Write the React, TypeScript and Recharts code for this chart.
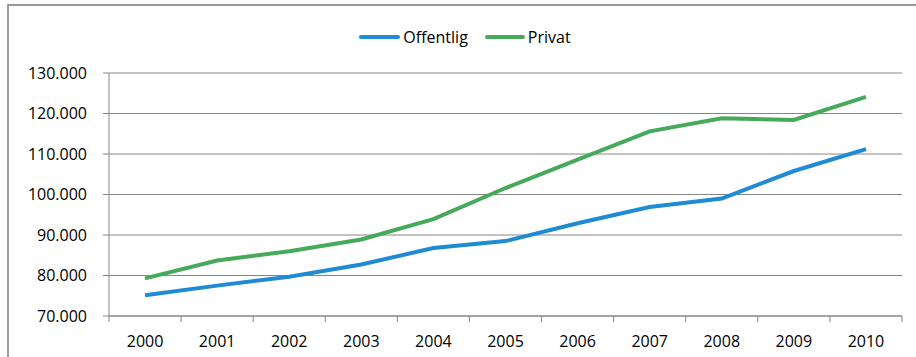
import React from 'react'
import { LineChart, Line, XAxis, YAxis, CartesianGrid, Legend } from 'recharts'

const years = ['2000', '2001', '2002', '2003', '2004', '2005', '2006', '2007', '2008', '2009', '2010']
const offentlig = [75100, 77500, 79700, 82700, 86800, 88500, 92900, 96900, 99000, 105800, 111200]
const privat = [79300, 83700, 86000, 88900, 93900, 101600, 108600, 115600, 118800, 118400, 124100]
const yTicks = [70000, 80000, 90000, 100000, 110000, 120000, 130000]

const data = years.map((year, i) => ({ year, offentlig: offentlig[i], privat: privat[i] }))

const W = 916
const H = 357
const PLOT_LEFT = 109
const PLOT_RIGHT = 902
const BAND = (PLOT_RIGHT - PLOT_LEFT) / years.length
const FONT = '"Open Sans", sans-serif'
const AXIS = '#868686'
const BLUE = '#1e8bd3'
const GREEN = '#47a95a'
const LEGEND_H = 20

const fmt = (v: number) => `${Math.round(v / 1000)}.000`

const XTick = (props: any) => {
  const { x, y, payload, index } = props
  const half = BAND / 2
  return (
    <g>
      <line x1={x - half} x2={x - half} y1={y} y2={y + 6} stroke={AXIS} />
      {index === years.length - 1 && <line x1={x + half} x2={x + half} y1={y} y2={y + 6} stroke={AXIS} />}
      <text x={x} y={y + 25} dy="0.35em" textAnchor="middle" fill="#000" fontSize={16} fontFamily={FONT}>
        {payload.value}
      </text>
    </g>
  )
}

const LegendBox = () => (
  <div style={{ display: 'flex', justifyContent: 'center', alignItems: 'center', height: LEGEND_H, paddingLeft: 14, fontFamily: FONT, fontSize: 16, color: '#000' }}>
    <span style={{ display: 'inline-block', width: 41, height: 4, borderRadius: 2, background: BLUE, marginRight: 3 }} />
    <span>Offentlig</span>
    <span style={{ display: 'inline-block', width: 40, height: 4, borderRadius: 2, background: GREEN, marginLeft: 17, marginRight: 3 }} />
    <span>Privat</span>
  </div>
)

export default function App() {
  return (
    <div style={{ position: 'absolute', left: 0, top: 0, width: W, height: H, background: '#fff', overflow: 'hidden' }}>
      <div style={{ position: 'absolute', left: 7, top: 4, width: W, height: H, borderTop: '2px solid #9a9a9a', borderLeft: '2px solid #9a9a9a' }} />
      <LineChart
        width={W}
        height={H}
        data={data}
        margin={{ top: 73 - LEGEND_H, right: W - PLOT_RIGHT, bottom: 0, left: 0 }}
      >
        <CartesianGrid vertical={false} stroke={AXIS} />
        <XAxis
          dataKey="year"
          height={41}
          stroke={AXIS}
          tickLine={false}
          tickSize={0}
          tickMargin={0}
          interval={0}
          padding={{ left: BAND / 2, right: BAND / 2 }}
          tick={<XTick />}
        />
        <YAxis
          width={PLOT_LEFT}
          domain={[70000, 130000]}
          ticks={yTicks}
          tickFormatter={fmt}
          stroke={AXIS}
          tickSize={6}
          tickMargin={16}
          tick={{ fill: '#000', fontSize: 16, fontFamily: FONT }}
        />
        <Legend verticalAlign="top" content={<LegendBox />} wrapperStyle={{ top: 27, left: 0, width: W }} />
        <Line type="linear" dataKey="offentlig" name="Offentlig" stroke={BLUE} strokeWidth={4} dot={false} isAnimationActive={false} />
        <Line type="linear" dataKey="privat" name="Privat" stroke={GREEN} strokeWidth={4} dot={false} isAnimationActive={false} />
      </LineChart>
    </div>
  )
}
